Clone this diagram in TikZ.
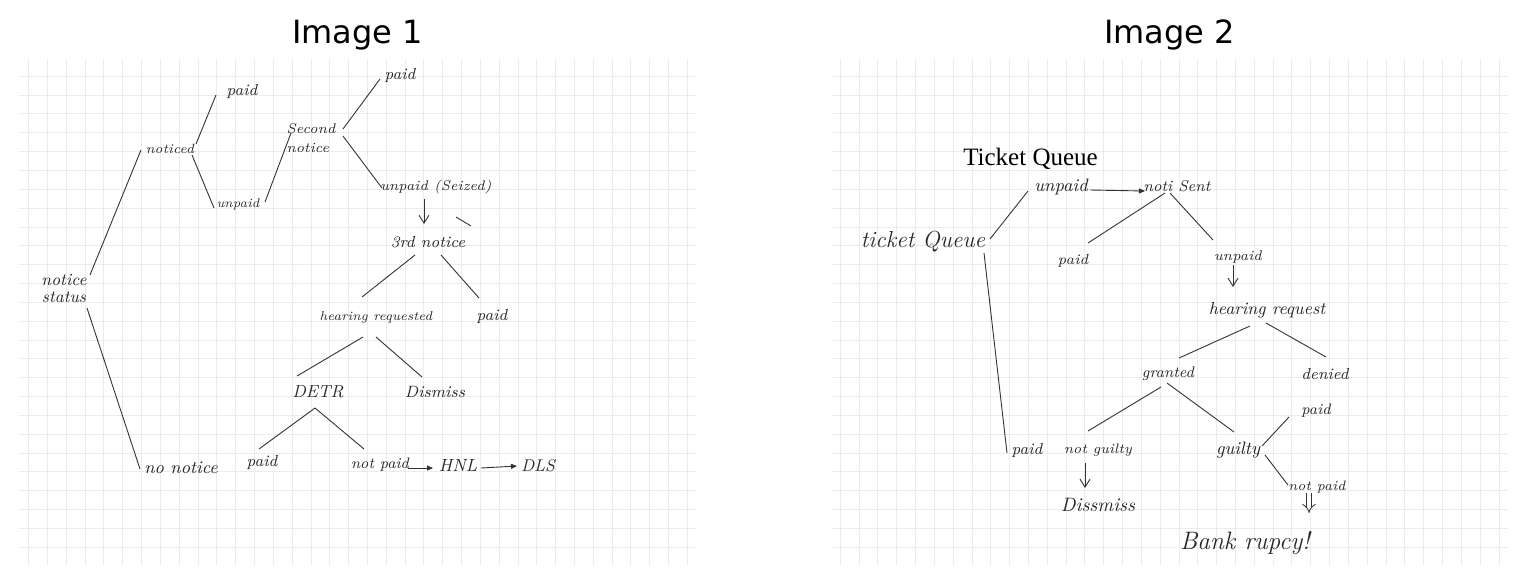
\documentclass[tikz,border=0pt]{standalone}
\usepackage{fontspec}
\usetikzlibrary{arrows.meta,calc}
\newfontfamily\titlefont{DejaVu Sans}
\newfontfamily\tqfont{Liberation Serif}
\tikzset{
  hw/.style={inner sep=0pt, font=\fontsize{#1}{#1}\selectfont\itshape, text=black!85},
  hw/.default=8,
  ink/.style={line width=0.45pt, draw=black!80},
  gridline/.style={line width=0.5pt, draw=black!8},
  vtip/.style={ink, -{Straight Barb[length=4pt,width=5pt]}},
  ttip/.style={ink, -{Triangle[length=3pt,width=2.5pt]}},
  dtip/.style={line width=0.4pt, draw=black!80, double, double distance=2pt, -{Implies[length=3.5pt]}},
  title/.style={inner sep=0pt, anchor=base, font=\titlefont\fontsize{16}{16}\selectfont}
}
\begin{document}
\begin{tikzpicture}[x=0.5pt,y=-0.5pt]
\useasboundingbox (0,0) rectangle (1526,585);
% grids
\foreach \k in {0,...,35}{
  \draw[gridline] ({28.7+18.82*\k},59) -- ({28.7+18.82*\k},566);
  \draw[gridline] ({840.3+18.82*\k},59) -- ({840.3+18.82*\k},566);
}
\foreach \k in {0,...,25}{
  \draw[gridline] (19,{76.3+18.84*\k}) -- (696,{76.3+18.84*\k});
  \draw[gridline] (831,{76.3+18.84*\k}) -- (1508,{76.3+18.84*\k});
}
% titles
\node[title] (t1) at (357.5,43) {Image 1};
\node[title] (t2) at (1169.5,43) {Image 2};

% ---------- Image 1 ----------
\node[hw=8.5, align=center, font=\fontsize{8.5}{8.5}\selectfont\itshape] (ns) at (64,289) {notice\\status};
\node[hw=6.7] (n1) at (170,149) {noticed};
\node[hw=8] (p1) at (242,91) {paid};
\node[hw=6.3] (u1) at (238,204) {unpaid};
\node[hw=7, align=left, font=\fontsize{7}{9.5}\selectfont\itshape] (sn) at (311,138) {Second\\notice};
\node[hw=8] (p2) at (400,75) {paid};
\node[hw=7] (us) at (436,187) {unpaid (Seized)};
\node[hw=8] (rd) at (428,242) {3rd notice};
\node[hw=6.4] (hr) at (376,317) {hearing requested};
\node[hw=8] (p3) at (492,316) {paid};
\node[hw=8.7] (de) at (318,392) {DETR};
\node[hw=8.2] (di) at (435,392) {Dismiss};
\node[hw=8] (p4) at (262,462) {paid};
\node[hw=7.6] (np) at (380,465) {not paid};
\node[hw=8.8] (hnl) at (458,465) {HNL};
\node[hw=8.5] (dls) at (538,466) {DLS};
\node[hw=8.9] (nn) at (181,468) {no notice};

\draw[ink] ($(ns)+(26,-14)$) -- ($(n1)+(-29,1)$);
\draw[ink] ($(n1)+(26,-5)$) -- ($(p1)+(-26,4)$);
\draw[ink] ($(n1)+(22,6)$) -- ($(u1)+(-24,4)$);
\draw[ink] ($(u1)+(27,-2)$) -- ($(sn)+(-20,-5)$);
\draw[ink] ($(sn)+(32,-9)$) -- ($(p2)+(-20,4)$);
\draw[ink] ($(sn)+(32,-2)$) -- ($(us)+(-54,1)$);
\draw[vtip] ($(us)+(-12,12)$) -- ($(rd)+(-4,-18)$);
\draw[ink] ($(us)+(20,30)$) -- ($(us)+(35,39)$);
\draw[ink] ($(rd)+(-13,13)$) -- ($(hr)+(-14,-20)$);
\draw[ink] ($(rd)+(13,13)$) -- ($(p3)+(-13,-18)$);
\draw[ink] ($(hr)+(-13,20)$) -- ($(de)+(-21,-16)$);
\draw[ink] ($(hr)+(0,20)$) -- ($(di)+(-13,-15)$);
\draw[ink] ($(de)+(-3,16)$) -- ($(p4)+(-3,-13)$);
\draw[ink] ($(de)+(-3,16)$) -- ($(np)+(-16,-16)$);
\draw[ttip] ($(np)+(28,3)$) -- ($(hnl)+(-25,3)$);
\draw[ttip] ($(hnl)+(23,3)$) -- ($(dls)+(-21,0)$);
\draw[ink] ($(ns)+(23,19)$) -- ($(nn)+(-41,1)$);

% ---------- Image 2 ----------
\node[inner sep=0pt, anchor=base, font=\tqfont\fontsize{12.5}{12.5}\selectfont] (tq) at (1030.5,165) {Ticket Queue};
\node[hw=11.6] (tqh) at (923,242) {ticket Queue};
\node[hw=9] (up) at (1061,187) {unpaid};
\node[hw=7.8] (ns2) at (1177,186) {noti Sent};
\node[hw=7.3] (pd2) at (1073,261) {paid};
\node[hw=7] (u2) at (1238,257) {unpaid};
\node[hw=8.7] (hq) at (1267,310) {hearing request};
\node[hw=7.7] (gr) at (1168,374) {granted};
\node[hw=8] (dn) at (1325,374) {denied};
\node[hw=8] (pl) at (1027,450) {paid};
\node[hw=6.9] (ng) at (1098,450) {not guilty};
\node[hw=9] (gu) at (1238,450) {guilty};
\node[hw=7.6] (pr) at (1316,411) {paid};
\node[hw=6.8] (npd) at (1317,487) {not paid};
\node[hw=9.7] (dsm) at (1098,505) {Dissmiss};
\node[hw=12.6] (br) at (1245,543) {Bank rupcy!};

\draw[ink] ($(tqh)+(67,-3)$) -- ($(up)+(-33,4)$);
\draw[ink] ($(tqh)+(61,11)$) -- ($(pl)+(-20,3)$);
\draw[ttip] ($(up)+(29,3)$) -- ($(ns2)+(-32,5)$);
\draw[ink] ($(ns2)+(-12,7)$) -- ($(pd2)+(15,-18)$);
\draw[ink] ($(ns2)+(-7,7)$) -- ($(u2)+(-25,-17)$);
\draw[vtip] ($(u2)+(-5,8)$) -- ($(hq)+(-34,-23)$);
\draw[ink] ($(hq)+(-17,16)$) -- ($(gr)+(11,-16)$);
\draw[ink] ($(hq)+(-1,13)$) -- ($(dn)+(1,-17)$);
\draw[ink] ($(gr)+(-7,13)$) -- ($(ng)+(-10,-19)$);
\draw[ink] ($(gr)+(-1,9)$) -- ($(gu)+(-4,-18)$);
\draw[ink] ($(gu)+(24,-4)$) -- ($(pr)+(-27,6)$);
\draw[ink] ($(gu)+(27,5)$) -- ($(npd)+(-29,-2)$);
\draw[vtip] ($(ng)+(-13,13)$) -- ($(dsm)+(-13,-17)$);
\draw[dtip] ($(npd)+(-8,6)$) -- ($(br)+(64,-30)$);
\end{tikzpicture}
\end{document}
